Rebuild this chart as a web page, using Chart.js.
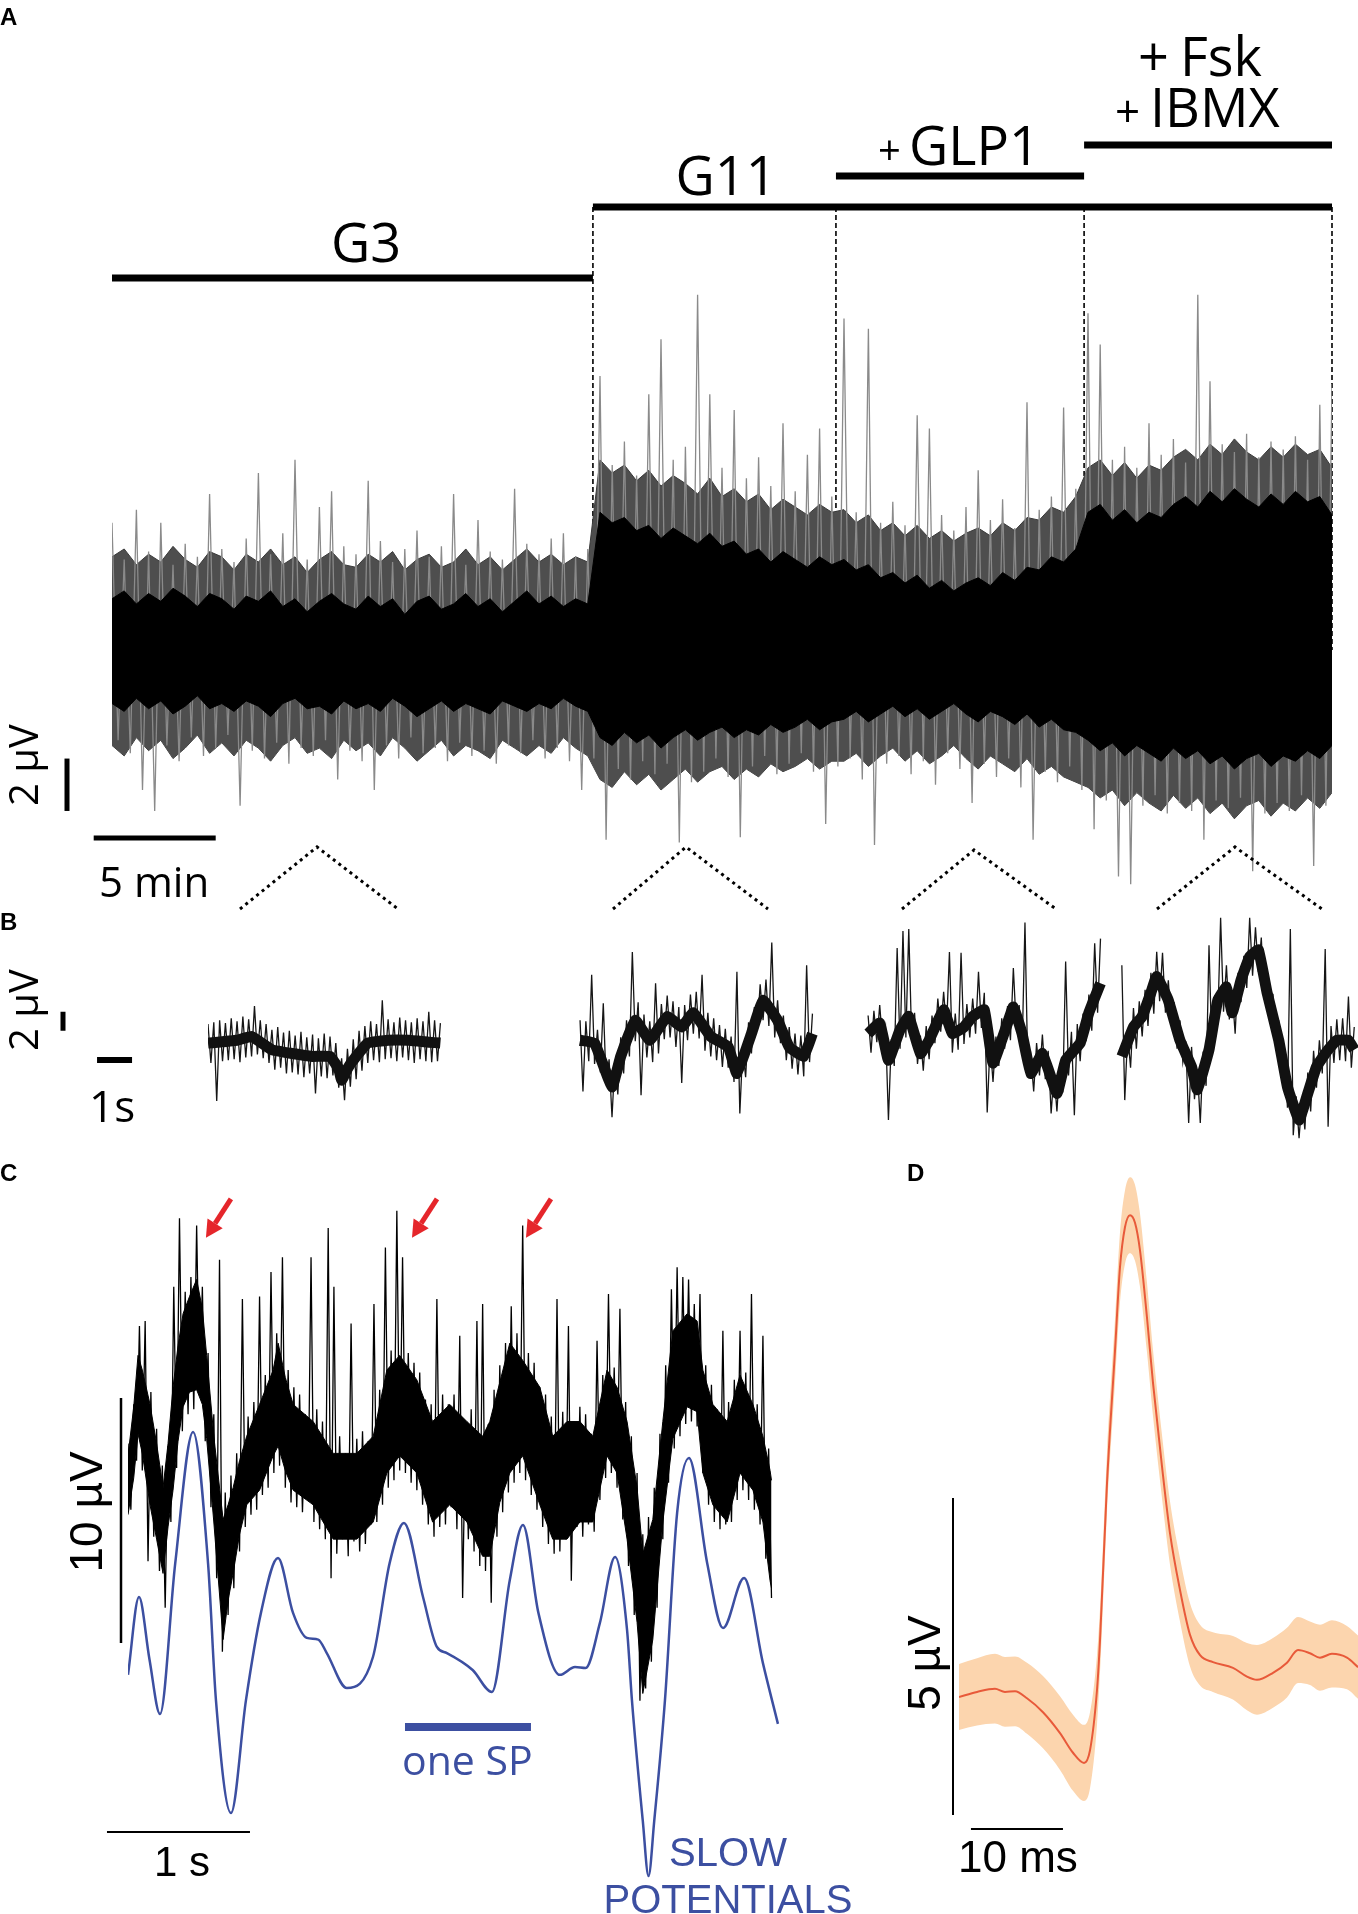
<!DOCTYPE html>
<html>
<head>
<meta charset="utf-8">
<script src="https://cdn.jsdelivr.net/npm/chart.js@4.4.1/dist/chart.umd.min.js"></script>
<style>
    html, body { margin: 0; padding: 0; background: #fff; }
    #fig { position: relative; width: 1358px; height: 1914px; overflow: hidden; background: #fff; }
    #fig canvas { position: absolute; left: 0; top: 0; }
</style>
</head>
<body>
<div id="fig">
    <canvas id="chart_a" width="1358" height="1914"></canvas>
    <canvas id="chart_b" width="1358" height="1914"></canvas>
    <canvas id="chart_c" width="1358" height="1914"></canvas>
    <canvas id="chart_d" width="1358" height="1914"></canvas>
</div>
<script>
//////////////////////////////////////////////////////////////////////////////////////////
// DATA

// panel A: 50 min recording, treatment switch times in min
const a_phase_start = [0, 19.71, 29.67, 39.84];
const a_end = 50;
// black core of the trace, one value every 0.5 min (uV)
const a_core_hi = [
    2.3, 2.6, 2.1, 2.5, 2.2, 2.7, 2.4, 2.0, 2.5, 2.3, 1.9, 2.4, 2.2, 2.6, 2.0, 2.3, 1.8, 2.2, 2.5, 2.1,
    1.9, 2.4, 2.0, 2.3, 1.7, 2.2, 2.4, 1.9, 2.1, 2.5, 2.0, 2.3, 1.8, 2.2, 2.6, 2.1, 2.4, 2.0, 2.3, 2.1,
    5.6, 5.2, 5.4, 4.9, 5.1, 4.6, 5.0, 4.7, 4.4, 4.8, 4.3, 4.5, 4.0, 4.2, 3.7, 4.1, 3.8, 3.5, 3.9, 3.6,
    3.8, 3.4, 3.6, 3.1, 3.3, 2.9, 3.2, 2.7, 3.0, 2.6, 2.9, 3.1, 2.8, 3.3, 3.0, 3.5, 3.4, 3.9, 3.7, 4.2,
    5.6, 5.9, 5.3, 5.7, 5.2, 5.6, 5.4, 5.9, 6.2, 5.8, 6.4, 6.0, 6.5, 6.1, 5.8, 6.3, 5.9, 6.4, 6.0, 6.2, 5.5
];
const a_core_lo = [
    -1.7, -2.0, -1.5, -1.9, -1.6, -2.1, -1.8, -1.4, -1.9, -1.7, -2.0, -1.6, -1.8, -2.2, -1.7, -1.5, -1.9, -1.8, -2.1, -1.6,
    -1.9, -1.7, -2.0, -1.5, -1.8, -2.2, -1.9, -1.6, -2.0, -1.7, -1.9, -2.1, -1.6, -1.8, -2.0, -1.7, -1.9, -1.5, -1.8, -2.0,
    -3.0, -3.3, -2.8, -3.2, -2.9, -3.4, -3.0, -2.7, -3.1, -2.8, -2.6, -3.0, -2.7, -2.9, -2.5, -2.8, -2.6, -2.3, -2.7, -2.4,
    -2.3, -2.0, -2.4, -2.1, -1.8, -2.2, -1.9, -2.3, -2.0, -1.7, -2.1, -2.4, -2.0, -2.2, -2.5, -2.1, -2.6, -2.3, -2.7, -2.8,
    -3.1, -3.5, -3.2, -3.7, -3.3, -3.6, -3.9, -3.4, -3.8, -3.5, -4.0, -3.7, -4.2, -3.8, -3.6, -4.1, -3.7, -3.9, -3.5, -3.8, -3.3
];
// grey fringe around the core, same 0.5 min grid (uV)
const a_fringe_hi = [
    3.9, 4.2, 3.6, 4.0, 3.7, 4.3, 3.8, 3.5, 4.1, 3.9, 3.4, 4.0, 3.7, 4.2, 3.6, 3.9, 3.3, 3.8, 4.1, 3.6,
    3.5, 4.0, 3.7, 4.1, 3.4, 3.8, 4.0, 3.5, 3.7, 4.2, 3.6, 3.9, 3.4, 3.8, 4.2, 3.7, 4.0, 3.6, 3.9, 3.7,
    7.6, 7.1, 7.4, 6.8, 7.2, 6.6, 7.0, 6.7, 6.3, 6.9, 6.2, 6.5, 6.0, 6.3, 5.7, 6.1, 5.8, 5.5, 5.9, 5.6,
    5.7, 5.2, 5.5, 4.9, 5.2, 4.7, 5.1, 4.6, 4.9, 4.5, 4.8, 5.0, 4.7, 5.2, 4.9, 5.4, 5.3, 5.8, 5.6, 6.2,
    7.3, 7.6, 7.0, 7.5, 6.9, 7.4, 7.2, 7.7, 8.0, 7.6, 8.2, 7.8, 8.4, 7.9, 7.6, 8.1, 7.7, 8.2, 7.8, 8.0, 7.3
];
const a_fringe_lo = [
    -3.3, -3.7, -3.0, -3.5, -3.1, -3.8, -3.4, -2.9, -3.6, -3.2, -3.7, -3.1, -3.4, -3.9, -3.3, -3.0, -3.6, -3.4, -3.8, -3.1,
    -3.5, -3.2, -3.7, -3.0, -3.4, -3.9, -3.5, -3.1, -3.7, -3.3, -3.5, -3.8, -3.1, -3.4, -3.7, -3.3, -3.6, -3.0, -3.4, -3.7,
    -4.6, -4.9, -4.3, -4.8, -4.4, -5.0, -4.6, -4.2, -4.7, -4.3, -4.1, -4.6, -4.2, -4.5, -4.0, -4.3, -4.1, -3.8, -4.2, -3.9,
    -3.9, -3.6, -4.1, -3.7, -3.4, -3.9, -3.5, -4.0, -3.7, -3.3, -3.8, -4.2, -3.7, -4.0, -4.3, -3.8, -4.4, -4.1, -4.5, -4.7,
    -4.9, -5.3, -5.0, -5.6, -5.1, -5.5, -5.8, -5.2, -5.7, -5.3, -5.9, -5.5, -6.1, -5.6, -5.4, -6.0, -5.5, -5.8, -5.3, -5.7, -5.1
];
// spikes, alternating up and down peaks every 0.25 min (uV)
const a_trace = [
    5.2, -3.1, 3.8, -3.6, 5.7, -5.0, 4.1, -5.8, 5.2, -3.3,
    3.6, -3.9, 4.4, -3.0, 3.9, -3.7, 6.3, -3.4, 4.2, -2.9,
    3.7, -5.6, 4.6, -3.5, 7.1, -3.8, 4.0, -3.2, 4.8, -4.0,
    7.6, -3.4, 3.8, -3.7, 5.8, -3.1, 6.4, -4.6, 4.3, -3.5,
    4.0, -3.9, 6.8, -5.0, 4.5, -3.3, 3.7, -3.8, 4.2, -3.0,
    4.9, -3.6, 3.9, -3.4, 4.3, -3.9, 6.3, -3.2, 3.6, -3.7,
    5.3, -3.5, 4.1, -4.0, 3.8, -3.3, 6.5, -3.6, 4.4, -3.1,
    4.0, -3.8, 4.6, -3.4, 4.8, -3.9, 3.9, -5.0, 4.2, -3.8,
    10.8, -6.9, 7.4, -4.2, 8.3, -4.6, 7.0, -3.9, 10.1, -4.4,
    12.2, -4.0, 7.6, -7.0, 8.1, -4.7, 13.9, -4.3, 10.1, -3.8,
    7.3, -4.5, 9.5, -6.8, 6.9, -4.1, 7.7, -3.7, 6.6, -4.4,
    9.0, -4.0, 6.4, -3.6, 7.8, -4.3, 8.8, -6.3, 6.2, -4.1,
    13.0, -3.8, 5.6, -4.6, 12.6, -7.1, 5.2, -4.0, 6.0, -3.7,
    5.1, -4.4, 9.3, -3.9, 8.8, -4.8, 5.5, -3.6, 4.9, -4.2,
    5.8, -5.5, 7.2, -4.0, 5.3, -4.5, 6.1, -3.8, 5.0, -4.9,
    9.8, -6.9, 5.7, -4.3, 6.2, -4.7, 9.6, -4.1, 6.5, -5.0,
    13.2, -6.5, 12.0, -5.4, 7.6, -8.3, 8.1, -8.6, 7.3, -5.6,
    9.0, -5.2, 7.8, -5.9, 8.4, -5.5, 7.5, -5.8, 13.9, -6.9,
    10.6, -5.4, 8.2, -5.7, 7.9, -5.3, 8.6, -8.1, 7.7, -5.9,
    8.3, -5.5, 8.0, -5.8, 8.5, -5.2, 7.6, -7.9, 9.7, -5.6,
    10.5
];

// panel B: four 6.6 s windows (s), one per condition
const b_seg_start = [0, 10.63, 18.86, 26.11];
const b_dt = 0.083;
const b_seg1 = [
    2.2, -1.9, 2.4, -5.9, 2.6, -1.7, 2.3, -1.6, 2.8, -1.5,
    2.5, -1.8, 3.0, -1.3, 2.7, -1.2, 4.1, -1.0, 2.6, -1.4,
    2.2, -1.9, 1.6, -2.6, 1.9, -2.4, 1.3, -3.0, 1.5, -2.9,
    1.0, -3.1, 1.4, -3.4, 0.8, -3.0, 1.1, -5.1, 0.7, -3.3,
    1.2, -3.5, 0.9, -3.2, 0.2, -4.5, -1.4, -5.8, -0.4, -4.4,
    0.6, -3.6, 1.5, -2.7, 2.0, -1.9, 2.5, -1.6, 2.2, -1.8,
    4.7, -1.5, 2.7, -1.4, 2.4, -1.7, 2.9, -1.3, 2.6, -1.6,
    2.4, -1.9, 2.8, -1.5, 2.5, -1.7, 3.5, -1.8, 2.6, -1.7,
    2.3
];
const b_seg2 = [
    2.6, -4.9, 2.5, -1.7, 7.4, -2.0, 1.6, -2.9, 4.4, -4.2,
    -1.5, -7.6, -1.6, -5.2, 0.8, -3.0, 2.6, -1.2, 9.8, 0.4,
    4.5, -5.3, 3.2, -1.3, 2.5, -1.8, 6.5, -0.9, 4.3, 0.6,
    5.2, 0.8, 4.6, -0.2, 4.0, -4.0, 4.2, 0.5, 5.3, 1.2,
    5.6, 0.7, 7.4, -0.6, 3.4, -1.2, 2.8, -1.6, 2.1, -2.3,
    1.7, -2.4, 0.9, -3.9, 7.7, -7.2, -0.3, -3.4, 2.4, -0.9,
    4.0, 1.5, 6.4, 2.6, 6.9, 2.0, 10.8, 0.8, 4.7, 0.2,
    3.1, -1.6, 1.9, -2.5, 1.2, -3.1, 1.0, -3.3, 8.4, -1.8,
    3.3
];
const b_seg3 = [
    3.1, -0.8, 3.6, 0.3, 4.2, 0.2, 1.9, -7.9, 0.6, -2.2,
    10.2, -0.4, 12.0, 0.8, 12.2, 0.5, 3.4, -2.0, 1.0, -2.7,
    2.0, -1.5, 3.1, 0.2, 4.9, 1.4, 5.6, 1.7, 9.8, -0.8,
    3.3, -0.5, 9.7, 0.1, 4.3, 0.8, 4.9, 1.2, 7.7, 1.8,
    5.5, -7.1, 0.3, -3.9, 0.9, -2.2, 2.8, -0.4, 4.1, 0.5,
    8.1, 1.9, 4.2, -0.7, 12.9, -3.1, -1.1, -4.9, 0.2, -3.2,
    1.1, -3.6, -0.6, -7.2, -2.9, -7.0, -1.9, -5.0, 8.8, -3.2,
    1.4, -7.4, 2.2, -1.7, 3.3, 0.4, 5.3, 1.5, 10.7, 3.4,
    11.2
];
const b_seg4 = [
    8.4, -5.8, 1.2, -2.4, 3.9, -0.4, 4.6, 0.9, 5.8, 2.0,
    7.6, 3.3, 9.8, 4.6, 9.7, 3.4, 6.8, 2.1, 4.5, -0.4,
    2.6, -1.8, 0.4, -8.2, -0.2, -5.7, -2.6, -8.2, -0.7, -4.3,
    10.5, -0.6, 5.2, 2.3, 13.4, 3.5, 8.4, 2.7, 5.5, 1.2,
    7.6, 4.5, 9.4, 6.0, 13.4, 7.3, 12.4, 7.7, 11.3, 4.8,
    7.7, 2.7, 5.4, -0.6, 2.6, -2.7, -0.5, -6.6, 12.2, -9.5,
    -5.4, -9.8, -5.7, -8.9, -2.9, -7.0, -0.6, -4.5, 0.5, -3.0,
    10.1, -8.6, 2.0, -1.9, 2.7, -1.6, 2.8, -1.7, 5.1, -2.4,
    1.9
];
// slow midline of each window (s from window start, uV)
const b1_mid_t = [0, 0.83, 1.245, 1.826, 2.407, 2.988, 3.486, 3.735, 3.818, 3.984, 4.15, 4.565, 5.146, 5.727, 6.308, 6.64];
const b1_mid_v = [0.2, 0.5, 0.9, -0.5, -0.9, -1.2, -1.2, -2.5, -3.7, -2.5, -1.6, 0.2, 0.5, 0.5, 0.3, 0.2];
const b2_mid_t = [0, 0.415, 0.913, 1.162, 1.577, 1.992, 2.49, 2.905, 3.237, 3.735, 4.233, 4.482, 4.897, 5.229, 5.644, 5.976, 6.391, 6.64];
const b2_mid_v = [0.5, 0.2, -4.4, -1.2, 2.6, 0.5, 3.0, 1.9, 3.4, 0.9, -0.2, -3.0, 1.2, 4.7, 2.6, -0.2, -1.2, 1.2];
const b3_mid_t = [0, 0.332, 0.581, 0.913, 1.162, 1.494, 1.743, 2.158, 2.407, 2.739, 2.988, 3.32, 3.569, 3.984, 4.15, 4.399, 4.648, 4.98, 5.395, 5.644, 6.059, 6.308, 6.64];
const b3_mid_v = [1.2, 2.3, -1.6, 1.6, 3.0, -0.9, 0.5, 3.7, 1.2, 1.9, 3.0, 3.7, -1.9, 2.3, 4.0, 1.2, -3.0, -0.9, -5.1, -1.6, 0.2, 3.4, 6.5];
const b4_mid_t = [0, 0.332, 0.581, 0.83, 0.996, 1.328, 1.66, 1.992, 2.158, 2.49, 2.739, 2.988, 3.154, 3.403, 3.652, 3.901, 4.15, 4.482, 4.731, 5.063, 5.312, 5.561, 5.893, 6.142, 6.474, 6.64];
const b4_mid_v = [-1.2, 1.9, 3.0, 5.5, 7.2, 4.7, 0.5, -2.3, -4.7, -0.5, 4.7, 6.1, 3.4, 6.8, 9.3, 10.0, 5.5, 0.5, -4.4, -7.9, -5.1, -2.3, -0.5, 0.5, 0.5, -0.5];

// panel C: raw trace (every 0.02 s, alternating peaks), its dense core and the slow potential (s, uV)
const c_dt = 0.02;
const c_trace = [
    9.2, 6.5, 10.8, 8.5, 14.0, 8.1, 14.2, 4.4, 11.3, 5.4,
    9.8, 4.0, 8.3, 2.5, 9.1, 6.0, 15.6, 8.2, 18.4, 9.7,
    15.4, 10.4, 16.0, 10.6, 18.1, 11.2, 15.6, 9.3, 12.9, 6.6,
    10.4, 3.7, 16.7, 0.7, 7.2, 2.2, 7.9, 3.3, 8.8, 4.8,
    15.1, 5.8, 10.3, 6.3, 10.9, 6.5, 15.2, 7.1, 12.0, 7.4,
    16.2, 8.0, 13.7, 8.3, 16.8, 7.4, 12.2, 6.8, 11.5, 6.6,
    11.2, 6.4, 10.4, 6.9, 16.8, 6.0, 10.6, 5.7, 10.1, 5.3,
    18.0, 3.7, 15.6, 4.7, 9.5, 5.3, 8.8, 4.6, 14.1, 5.2,
    9.4, 4.8, 9.7, 5.1, 9.3, 5.9, 14.9, 6.0, 11.4, 6.7,
    17.2, 7.4, 13.0, 7.7, 18.7, 8.1, 16.8, 8.0, 12.9, 7.6,
    12.5, 7.3, 12.1, 6.7, 11.0, 5.9, 10.8, 5.4, 15.1, 5.8,
    11.2, 5.9, 10.8, 6.6, 11.2, 5.7, 13.6, 2.9, 10.0, 5.3,
    10.6, 4.8, 14.2, 4.2, 14.9, 4.0, 10.0, 2.7, 11.4, 5.4,
    12.4, 6.4, 13.3, 7.2, 14.8, 7.6, 13.7, 8.0, 18.1, 7.7,
    12.9, 7.1, 12.5, 6.5, 11.5, 5.8, 11.2, 5.1, 10.3, 4.7,
    15.1, 4.8, 10.5, 5.3, 14.0, 3.6, 10.1, 5.8, 10.7, 5.4,
    10.4, 5.9, 9.6, 5.6, 13.4, 6.9, 12.0, 7.8, 15.3, 8.0,
    12.3, 7.4, 14.7, 6.1, 10.9, 4.2, 9.5, 2.2, 8.0, -1.3,
    5.5, -0.8, 6.2, 0.3, 7.4, 2.5, 9.6, 5.3, 12.4, 7.6,
    15.5, 9.0, 16.4, 9.5, 16.0, 10.0, 15.9, 10.1, 14.9, 9.9,
    15.3, 8.0, 12.4, 6.7, 11.6, 6.0, 10.6, 5.7, 13.8, 5.9,
    10.9, 6.0, 11.8, 6.9, 13.8, 7.3, 12.1, 6.9, 15.3, 6.5,
    10.8, 5.9, 13.6, 4.5, 9.0, 2.9
];
const c_band_t = [
    0, 0.04, 0.07, 0.10, 0.154, 0.20, 0.245, 0.28, 0.315, 0.35,
    0.385, 0.43, 0.48, 0.52, 0.55, 0.60, 0.665, 0.70, 0.735, 0.78,
    0.83, 0.92, 1.015, 1.05, 1.10, 1.155, 1.295, 1.435, 1.60, 1.715,
    1.81, 1.90, 2.02, 2.13, 2.25, 2.37, 2.48, 2.53, 2.60, 2.67,
    2.76, 2.88, 2.97, 3.07, 3.16, 3.25, 3.35, 3.42, 3.49, 3.56,
    3.60, 3.67, 3.74, 3.81, 3.91, 3.98, 4.02, 4.09, 4.19, 4.28,
    4.37, 4.44, 4.49, 4.50
];
const c_band_hi = [
    8.7, 10.7, 12.8, 12.2, 10.8, 9.2, 7.4, 9.2, 11.5, 13.2,
    14.5, 15.2, 15.9, 14.7, 12.8, 9.5, 6.1, 6.7, 7.4, 8.5,
    9.5, 10.8, 12.2, 13.3, 11.9, 10.8, 10.1, 8.8, 8.8, 9.5,
    12.2, 12.8, 11.8, 10.1, 10.8, 10.1, 9.5, 10.1, 11.7, 13.3,
    12.6, 11.5, 9.5, 10.1, 10.1, 9.5, 12.2, 11.5, 10.1, 7.4,
    4.7, 6.1, 10.1, 13.8, 14.5, 14.2, 12.2, 10.8, 10.1, 12.0,
    10.8, 9.5, 8.1, 7.7
];
const c_band_lo = [
    6.3, 7.8, 9.6, 8.8, 6.7, 5.3, 3.9, 5.8, 7.3, 9.3,
    10.7, 11.3, 11.4, 10.8, 9.4, 6.0, 1.2, 2.8, 3.9, 5.5,
    6.7, 7.3, 8.7, 9.1, 8.1, 7.3, 6.7, 5.3, 5.3, 6.0,
    8.0, 8.7, 8.0, 6.0, 6.7, 6.0, 4.6, 4.6, 6.8, 8.0,
    8.7, 6.7, 5.3, 5.3, 6.0, 6.0, 8.7, 8.0, 5.3, 1.9,
    -1.0, 1.2, 6.0, 9.4, 10.7, 10.5, 8.0, 6.7, 6.0, 8.0,
    7.3, 6.0, 3.6, 3.3
];
const c_blue_t = [
    0, 0.077, 0.15, 0.224, 0.33, 0.455, 0.56, 0.615, 0.72, 0.825,
    0.93, 1.049, 1.154, 1.25, 1.33, 1.39, 1.531, 1.713, 1.83, 1.93,
    2.063, 2.16, 2.23, 2.41, 2.545, 2.67, 2.762, 2.87, 3.02, 3.126,
    3.2, 3.3, 3.406, 3.49, 3.524, 3.60, 3.64, 3.68, 3.755, 3.84,
    3.923, 4.05, 4.161, 4.308, 4.44, 4.545
];
const c_blue_v = [
    -0.24, 2.94, 0.4, -1.84, 4.3, 9.67, 4.3, -1.27, -5.88, -1.27,
    2.3, 4.53, 2.29, 1.27, 1.2, 0.65, -0.78, 0.49, 4.33, 5.96,
    2.94, 0.9, 0.65, -0.04, -0.94, 3.63, 5.88, 2.29, -0.24, 0.08,
    0.04, 1.88, 4.57, 1.59, -1.27, -6.2, -8.45, -6.2, -1.27, 6.37,
    8.61, 4.33, 1.67, 3.71, 0.24, -2.24
];
const c_arrow_t = [0.545, 1.986, 2.783];   // spikes marked with red arrows

// panel D: mean spike waveform and its error band (ms, uV)
const d_time = [
    0, 1.96, 3.91, 5.0, 6.09, 7.39, 9.13, 10.98, 12.39, 13.59,
    14.24, 15.0, 15.33, 16.09, 16.96, 17.5, 18.04, 18.59, 19.13, 19.67,
    20.43, 21.09, 22.07, 22.93, 24.02, 25.11, 26.2, 27.6, 29.78, 31.3,
    32.39, 34.13, 35.65, 36.85, 38.15, 39.24, 40.54, 42.17, 43.37
];
const d_mean = [
    0, 0.08, 0.13, 0.08, 0.09, -0.02, -0.24, -0.57, -0.88, -1.04,
    -0.84, 0.11, 0.9, 3.38, 5.47, 6.78, 7.41, 7.6, 7.48, 7.05,
    5.99, 4.95, 3.63, 2.59, 1.69, 0.98, 0.66, 0.55, 0.46, 0.32,
    0.27, 0.38, 0.54, 0.74, 0.69, 0.62, 0.68, 0.62, 0.47
];
const d_sem = [
    0.52, 0.53, 0.55, 0.55, 0.55, 0.56, 0.57, 0.58, 0.6, 0.6,
    0.6, 0.55, 0.5, 0.48, 0.5, 0.55, 0.58, 0.6, 0.6, 0.58,
    0.55, 0.52, 0.5, 0.5, 0.5, 0.5, 0.48, 0.47, 0.5, 0.53,
    0.55, 0.55, 0.55, 0.52, 0.5, 0.52, 0.53, 0.5, 0.5
];

//////////////////////////////////////////////////////////////////////////////////////////

const FONT_SANS = '"Open Sans", "DejaVu Sans", sans-serif';
const FONT_ARIAL = '"Liberation Sans", Arial, sans-serif';
const BLUE = '#3c4fa1';

function even_points(x0, dx, ys) {
    return ys.map((y, i) => ({x: x0 + i * dx, y: y}));
}
function xy_points(xs, ys, x0) {
    return ys.map((y, i) => ({x: (x0 || 0) + xs[i], y: y}));
}

function bar(ctx, x1, y1, x2, y2, width, color) {
    ctx.save();
    ctx.strokeStyle = color || '#000';
    ctx.lineWidth = width;
    ctx.lineCap = 'butt';
    ctx.beginPath(); ctx.moveTo(x1, y1); ctx.lineTo(x2, y2); ctx.stroke();
    ctx.restore();
}

function label(ctx, str, x, y, font, color, align) {
    ctx.save();
    ctx.font = font;
    ctx.fillStyle = color || '#000';
    ctx.textAlign = align || 'left';
    ctx.textBaseline = 'alphabetic';
    ctx.fillText(str, x, y);
    ctx.restore();
}

// text reading bottom to top
function label_up(ctx, str, x, y, font, color) {
    ctx.save();
    ctx.translate(x, y);
    ctx.rotate(-Math.PI / 2);
    ctx.font = font;
    ctx.fillStyle = color || '#000';
    ctx.textAlign = 'center';
    ctx.textBaseline = 'alphabetic';
    ctx.fillText(str, 0, 0);
    ctx.restore();
}

function arrow(ctx, x1, y1, x2, y2) {
    const ang = Math.atan2(y2 - y1, x2 - x1);
    const head = 17, half = 9;
    const bx = x2 - head * Math.cos(ang), by = y2 - head * Math.sin(ang);
    ctx.save();
    ctx.strokeStyle = ctx.fillStyle = '#e5262b';
    ctx.lineWidth = 5;
    ctx.beginPath(); ctx.moveTo(x1, y1); ctx.lineTo(bx, by); ctx.stroke();
    ctx.beginPath();
    ctx.moveTo(x2, y2);
    ctx.lineTo(bx + half * Math.sin(ang), by - half * Math.cos(ang));
    ctx.lineTo(bx - half * Math.sin(ang), by + half * Math.cos(ang));
    ctx.closePath(); ctx.fill();
    ctx.restore();
}

function base_options(pad, x_min, x_max, y_min, y_max) {
    return {
        responsive: false,
        animation: false,
        events: [],
        layout: {padding: pad},
        plugins: {legend: {display: false}, tooltip: {enabled: false}, title: {display: false}},
        elements: {point: {radius: 0}, line: {tension: 0}},
        scales: {
            x: {type: 'linear', display: false, min: x_min, max: x_max},
            y: {type: 'linear', display: false, min: y_min, max: y_max}
        }
    };
}

// ---------- panel A ----------
const panel_a = {
    id: 'panel_a',
    beforeDatasetsDraw(chart) {
        const ctx = chart.ctx, xs = chart.scales.x;
        ctx.save();
        ctx.strokeStyle = '#000';
        ctx.lineWidth = 1.6;
        ctx.setLineDash([5, 3]);
        [a_phase_start[1], a_phase_start[2], a_phase_start[3], a_end].forEach(t => {
            const px = xs.getPixelForValue(t);
            ctx.beginPath(); ctx.moveTo(px, 207); ctx.lineTo(px, 650); ctx.stroke();
        });
        ctx.restore();
    },
    afterDraw(chart) {
        const ctx = chart.ctx, xs = chart.scales.x, ys = chart.scales.y;
        const px = t => xs.getPixelForValue(t);
        label(ctx, 'A', 0, 25, 'bold 24px ' + FONT_ARIAL);

        // treatment bars
        bar(ctx, px(a_phase_start[0]), 278, px(a_phase_start[1]), 278, 7);
        bar(ctx, px(a_phase_start[1]), 207, px(a_end), 207, 7);
        bar(ctx, px(a_phase_start[2]), 176, px(a_phase_start[3]), 176, 7);
        bar(ctx, px(a_phase_start[3]), 145, px(a_end), 145, 7);
        const big = '54px ' + FONT_SANS;
        label(ctx, 'G3', 366, 262, big, '#000', 'center');
        label(ctx, 'G11', 726, 195, big, '#000', 'center');
        label(ctx, '+', 878, 165, '40px ' + FONT_SANS);
        label(ctx, 'GLP1', 909, 165, big);
        label(ctx, '+', 1138, 76, big);
        label(ctx, 'Fsk', 1180, 76, big);
        label(ctx, '+', 1115, 127, '44px ' + FONT_SANS);
        label(ctx, 'IBMX', 1150, 127, big);

        // scale bars
        bar(ctx, 67, ys.getPixelForValue(-5.8), 67, ys.getPixelForValue(-3.8), 5);
        label_up(ctx, '2 µV', 38, 765, '40px ' + FONT_SANS);
        bar(ctx, px(-0.75), 838, px(4.25), 838, 5);
        label(ctx, '5 min', 99, 897, '42px ' + FONT_SANS);

        // dotted zoom markers towards panel B
        const marks = [
            [[240, 909], [317, 847], [398, 909]],
            [[613, 909], [686, 847], [768, 909]],
            [[902, 909], [974, 850], [1056, 909]],
            [[1157, 909], [1235, 847], [1322, 909]]
        ];
        ctx.save();
        ctx.strokeStyle = '#000';
        ctx.lineWidth = 3;
        ctx.setLineDash([3, 4]);
        marks.forEach(m => {
            ctx.beginPath();
            ctx.moveTo(m[0][0], m[0][1]);
            ctx.lineTo(m[1][0], m[1][1]);
            ctx.lineTo(m[2][0], m[2][1]);
            ctx.stroke();
        });
        ctx.restore();
    }
};

new Chart(document.getElementById('chart_a'), {
    type: 'line',
    data: {
        datasets: [
            {data: even_points(0, 0.5, a_core_hi), borderColor: '#000', backgroundColor: '#000', borderWidth: 1, fill: '+1'},
            {data: even_points(0, 0.5, a_core_lo), borderColor: '#000', borderWidth: 1, fill: false},
            {data: even_points(0, 0.25, a_trace), borderColor: '#8a8a8a', borderWidth: 1.3, fill: false},
            {data: even_points(0, 0.5, a_fringe_hi), borderColor: '#3a3a3a', borderWidth: 1, backgroundColor: '#4e4e4e', fill: '+1'},
            {data: even_points(0, 0.5, a_fringe_lo), borderColor: '#3a3a3a', borderWidth: 1, fill: false}
        ]
    },
    options: base_options({left: 112, right: 26, top: 266, bottom: 993}, 0, a_end, -10, 15),
    plugins: [panel_a]
});

// ---------- panel B ----------
const panel_b = {
    id: 'panel_b',
    afterDraw(chart) {
        const ctx = chart.ctx, xs = chart.scales.x, ys = chart.scales.y;
        label(ctx, 'B', 0, 930, 'bold 24px ' + FONT_ARIAL);
        label_up(ctx, '2 µV', 38, 1010, '40px ' + FONT_SANS);
        bar(ctx, 63, ys.getPixelForValue(1.5), 63, ys.getPixelForValue(3.5), 5);
        bar(ctx, xs.getPixelForValue(-3.17), 1060, xs.getPixelForValue(-2.17), 1060, 6);
        label(ctx, '1s', 89, 1122, '44px ' + FONT_SANS);
    }
};

const b_mids = [[b1_mid_t, b1_mid_v], [b2_mid_t, b2_mid_v], [b3_mid_t, b3_mid_v], [b4_mid_t, b4_mid_v]];
const b_sets = [];
b_mids.forEach((m, k) => {
    // dense core of the noisy trace
    b_sets.push({data: xy_points(m[0], m[1], b_seg_start[k]), borderColor: '#111', borderWidth: 11,
                 borderJoinStyle: 'round', tension: 0.1, fill: false});
});
[b_seg1, b_seg2, b_seg3, b_seg4].forEach((seg, k) => {
    b_sets.push({data: even_points(b_seg_start[k], b_dt, seg), borderColor: '#161616', borderWidth: 1.3, fill: false});
});

new Chart(document.getElementById('chart_b'), {
    type: 'line',
    data: {datasets: b_sets},
    options: base_options({left: 208, right: 0, top: 912, bottom: 764.5}, 0, 1150 / 35, -11, 14),
    plugins: [panel_b]
});

// ---------- panel C ----------
const panel_c = {
    id: 'panel_c',
    afterDraw(chart) {
        const ctx = chart.ctx, xs = chart.scales.x, ys = chart.scales.y;
        label(ctx, 'C', 0, 1181, 'bold 24px ' + FONT_ARIAL);
        bar(ctx, 121, ys.getPixelForValue(1.06), 121, ys.getPixelForValue(11.06), 2.5);
        label_up(ctx, '10 µV', 102, 1512, '46px ' + FONT_ARIAL);
        bar(ctx, xs.getPixelForValue(-0.147), 1832, xs.getPixelForValue(0.853), 1832, 2);
        label(ctx, '1 s', 182, 1876, '42px ' + FONT_ARIAL, '#000', 'center');
        bar(ctx, xs.getPixelForValue(1.937), 1727, xs.getPixelForValue(2.818), 1727, 8, BLUE);
        label(ctx, 'one SP', 402, 1775, '41px ' + FONT_SANS, BLUE);
        label(ctx, 'SLOW', 728, 1866, '40px ' + FONT_ARIAL, BLUE, 'center');
        label(ctx, 'POTENTIALS', 728, 1913, '40px ' + FONT_ARIAL, BLUE, 'center');
        c_arrow_t.forEach(t => {
            const tx = xs.getPixelForValue(t), ty = ys.getPixelForValue(17.6);
            arrow(ctx, tx + 25, ty - 39, tx, ty);
        });
    }
};

new Chart(document.getElementById('chart_c'), {
    type: 'line',
    data: {
        datasets: [
            {data: xy_points(c_blue_t, c_blue_v), borderColor: BLUE, borderWidth: 2.5, fill: false, cubicInterpolationMode: 'monotone'},
            {data: even_points(0, c_dt, c_trace), borderColor: '#000', borderWidth: 1.3, fill: false},
            {data: xy_points(c_band_t, c_band_hi), borderColor: '#000', borderWidth: 1, backgroundColor: '#000', fill: '+1'},
            {data: xy_points(c_band_t, c_band_lo), borderColor: '#000', borderWidth: 1, fill: false}
        ]
    },
    options: base_options({left: 128, right: 1358 - (128 + 4.56 * 143), top: 1190, bottom: 0}, 0, 4.56, -10, 19.55),
    plugins: [panel_c]
});

// ---------- panel D ----------
const panel_d = {
    id: 'panel_d',
    afterDraw(chart) {
        const ctx = chart.ctx, xs = chart.scales.x, ys = chart.scales.y;
        label(ctx, 'D', 907, 1181, 'bold 24px ' + FONT_ARIAL);
        bar(ctx, 953, ys.getPixelForValue(-1.86), 953, ys.getPixelForValue(3.14), 2);
        label_up(ctx, '5 µV', 940, 1663, '46px ' + FONT_ARIAL);
        bar(ctx, xs.getPixelForValue(1.3), 1829, xs.getPixelForValue(11.3), 1829, 2);
        label(ctx, '10 ms', 958, 1872, '44px ' + FONT_ARIAL);
    }
};

const d_upper = d_mean.map((m, i) => m + d_sem[i]);
const d_lower = d_mean.map((m, i) => m - d_sem[i]);

new Chart(document.getElementById('chart_d'), {
    type: 'line',
    data: {
        datasets: [
            {data: xy_points(d_time, d_mean), borderColor: '#e85a3a', borderWidth: 2, fill: false, cubicInterpolationMode: 'monotone'},
            {data: xy_points(d_time, d_upper), borderColor: 'rgba(0,0,0,0)', borderWidth: 0, backgroundColor: '#fcd5ae', fill: '+1', cubicInterpolationMode: 'monotone'},
            {data: xy_points(d_time, d_lower), borderColor: 'rgba(0,0,0,0)', borderWidth: 0, fill: false, cubicInterpolationMode: 'monotone'}
        ]
    },
    options: base_options({left: 959, right: 0, top: 1170.8, bottom: 83.9}, 0, 43.37, -2.1, 8.3),
    plugins: [panel_d]
});
</script>
</body>
</html>
